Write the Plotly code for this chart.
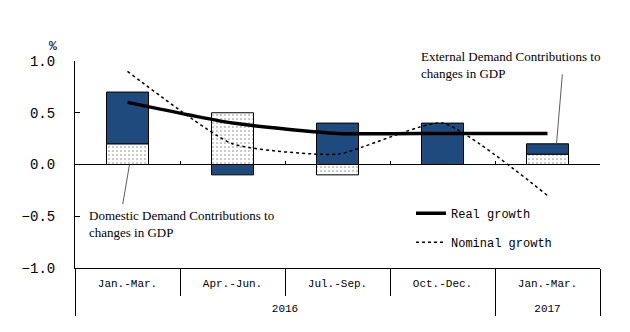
import plotly.graph_objects as go

years = ["2016", "2016", "2016", "2016", "2017"]
quarters = ["Jan.-Mar.", "Apr.-Jun.", "Jul.-Sep.", "Oct.-Dec.", "Jan.-Mar."]
domestic = [0.2, 0.5, -0.1, 0.0, 0.1]
external = [0.5, -0.1, 0.4, 0.4, 0.1]
real_growth = [0.6, 0.4, 0.3, 0.3, 0.3]
nominal_growth = [0.9, 0.2, 0.1, 0.4, -0.3]
y_ticks = [-1.0, -0.5, 0.0, 0.5, 1.0]

NAVY = "#1F4A7E"
MONO = "Liberation Mono"
SERIF = "Liberation Serif"
# a blank second line under each quarter label opens the gap to the year row
x_mc = [years, [q + "<br><span style='font-size:15px'>\u00a0</span>" for q in quarters]]

fig = go.Figure()
fig.add_trace(go.Bar(
    x=x_mc, y=domestic, name="Domestic", showlegend=False,
    marker=dict(color="white", line=dict(color="black", width=1),
                pattern=dict(shape=".", fgcolor="black", bgcolor="white", size=4, solidity=0.12)),
))
fig.add_trace(go.Bar(
    x=x_mc, y=external, name="External", showlegend=False,
    marker=dict(color=NAVY, line=dict(color="black", width=1)),
))
fig.add_trace(go.Scatter(
    x=x_mc, y=real_growth, name="Real growth", mode="lines", legendgroup="a",
    line=dict(color="black", width=3.5, shape="spline", smoothing=0.5),
))
fig.add_trace(go.Scatter(
    x=x_mc, y=nominal_growth, name="Nominal growth", mode="lines", legendgroup="b",
    line=dict(color="black", width=1.5, dash="dot", shape="spline", smoothing=0.5),
))
# helper axis at y = 0 for the boundary tick marks
fig.add_trace(go.Scatter(x=[], y=[], xaxis="x2", showlegend=False, hoverinfo="skip"))

fig.update_layout(
    width=630, height=332,
    margin=dict(l=75, r=30, t=61, b=64),
    paper_bgcolor="white", plot_bgcolor="white",
    barmode="relative", bargap=0.6,
    font=dict(family=MONO, size=12, color="black"),
    showlegend=True,
    legend=dict(x=0.64, y=0.335, xanchor="left", yanchor="top",
                bgcolor="rgba(0,0,0,0)", borderwidth=0,
                font=dict(family=MONO, size=12), tracegroupgap=10),
    xaxis=dict(
        type="multicategory", showline=True, linecolor="black", linewidth=1,
        ticks="outside", tickson="boundaries", ticklen=27, tickcolor="black",
        showdividers=True, dividercolor="black", dividerwidth=1,
        showgrid=False, tickfont=dict(family=MONO, size=11), ticklabelstandoff=5,
    ),
    xaxis2=dict(
        overlaying="x", anchor="free", position=0.5, type="linear",
        range=[-0.5, 4.5], tickvals=[0.5, 1.5, 2.5, 3.5, 4.5],
        ticks="inside", ticklen=4, tickcolor="black",
        showticklabels=False, showline=False, showgrid=False, zeroline=False,
    ),
    yaxis=dict(
        range=[-1.0, 1.0], tickvals=y_ticks, tickformat=".1f",
        ticks="inside", ticklen=5, tickcolor="black",
        showline=True, linecolor="black", linewidth=1,
        showgrid=False, zeroline=True, zerolinecolor="black", zerolinewidth=1,
        tickfont=dict(family=MONO, size=14), ticklabelstandoff=16,
    ),
)

fig.add_annotation(text="%", xref="paper", yref="paper", x=-0.054, y=1.114,
                   showarrow=False, font=dict(family=MONO, size=13))
fig.add_annotation(text="Domestic Demand Contributions to<br>changes in GDP",
                   xref="paper", yref="paper", x=0.022, y=0.30, xanchor="left", yanchor="top",
                   align="left", showarrow=False, font=dict(family=SERIF, size=13))
fig.add_annotation(text="External Demand Contributions to<br>changes in GDP",
                   xref="paper", yref="paper", x=0.655, y=1.07, xanchor="left", yanchor="top",
                   align="left", showarrow=False, font=dict(family=SERIF, size=13))
# leader lines
fig.add_annotation(x=0, y=domestic[0] - domestic[0], xshift=2, text="", showarrow=True,
                   arrowhead=0, arrowwidth=0.8, arrowcolor="#333", ax=-7, ay=41, standoff=0)
fig.add_annotation(x=4, y=domestic[4] + external[4], xshift=9, text="", showarrow=True,
                   arrowhead=0, arrowwidth=0.8, arrowcolor="#333", ax=6, ay=-71, standoff=0)

fig.write_html("out.html")
